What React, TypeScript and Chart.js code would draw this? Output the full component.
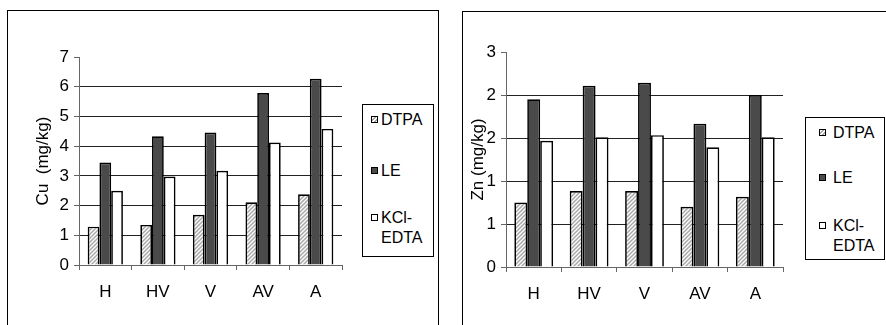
import React, { useEffect, useRef } from "react";
import { Chart, registerables } from "chart.js";

Chart.register(...registerables);

const categories = ["H", "HV", "V", "AV", "A"];
const seriesNames = ["DTPA", "LE", "KCl-EDTA"];

const cuDTPA = [1.29, 1.35, 1.69, 2.11, 2.38];
const cuLE = [3.45, 4.33, 4.46, 5.79, 6.27];
const cuKCl = [2.5, 2.98, 3.17, 4.12, 4.58];

const znDTPA = [0.9, 1.06, 1.06, 0.84, 0.98];
const znLE = [2.34, 2.53, 2.57, 2.0, 2.4];
const znKCl = [1.76, 1.81, 1.84, 1.67, 1.81];

const FONT = "'Liberation Sans', Arial, sans-serif";

function makePattern(): CanvasPattern | string {
  const c = document.createElement("canvas");
  c.width = 4;
  c.height = 4;
  const g = c.getContext("2d");
  if (!g) return "#ccc";
  g.fillStyle = "#ffffff";
  g.fillRect(0, 0, 4, 4);
  g.strokeStyle = "#a8a8a8";
  g.lineWidth = 1.5;
  g.beginPath();
  g.moveTo(0, 4);
  g.lineTo(4, 0);
  g.moveTo(-1, 1);
  g.lineTo(1, -1);
  g.moveTo(3, 5);
  g.lineTo(5, 3);
  g.stroke();
  return g.createPattern(c, "repeat") || "#ccc";
}

type BarProps = {
  values: number[][];
  max: number;
  step: number;
  title: string;
  left: number;
  top: number;
  width: number;
  height: number;
  padL: number;
  padT: number;
  padR: number;
  yW: number;
  xH: number;
  titlePad: number;
  catPct: number;
  round: boolean;
};

function BarChart(p: BarProps) {
  const ref = useRef<HTMLCanvasElement>(null);
  useEffect(() => {
    if (!ref.current) return;
    const pattern = makePattern();
    const fills = [pattern, "#4a4a4a", "#ffffff"];
    const axisColor = "#666666";
    const gridColor = "#222222";
    const chart = new Chart(ref.current, {
      type: "bar",
      data: {
        labels: categories,
        datasets: p.values.map((v, i) => ({
          label: seriesNames[i],
          data: v,
          backgroundColor: fills[i] as any,
          borderColor: "#000000",
          borderWidth: 1.7,
          categoryPercentage: p.catPct,
          barPercentage: 1,
        })),
      },
      options: {
        responsive: false,
        animation: false,
        devicePixelRatio: 1,
        layout: { padding: { left: p.padL, top: p.padT, right: p.padR, bottom: 0 } },
        plugins: { legend: { display: false }, tooltip: { enabled: false } },
        scales: {
          x: {
            grid: {
              display: true,
              drawOnChartArea: false,
              drawTicks: true,
              tickLength: 5,
              color: axisColor,
              offset: true,
            },
            border: { display: true, color: axisColor, width: 1 },
            ticks: { font: { family: FONT, size: 17 }, color: "#000", padding: 12, maxRotation: 0 },
            afterFit: (s: any) => {
              s.height = p.xH;
            },
          },
          y: {
            min: 0,
            max: p.max,
            ticks: {
              stepSize: p.step,
              font: { family: FONT, size: 17 },
              color: "#000",
              padding: 5,
              callback: (v: any) => (p.round ? String(Math.round(Number(v))) : String(v)),
            },
            grid: {
              color: (ctx: any) =>
                ctx.tick && ctx.tick.value >= p.max - 1e-9 ? "rgba(0,0,0,0)" : gridColor,
              tickColor: axisColor,
              tickLength: 5,
              lineWidth: 1,
            },
            border: { display: true, color: axisColor, width: 1 },
            title: {
              display: true,
              text: p.title,
              font: { family: FONT, size: 17 },
              color: "#000",
              padding: { top: p.titlePad, bottom: 0 },
            },
            afterFit: (s: any) => {
              s.width = p.yW;
            },
          },
        },
      },
    } as any);
    return () => chart.destroy();
  }, []);
  return (
    <canvas
      ref={ref}
      width={p.width}
      height={p.height}
      style={{ position: "absolute", left: p.left, top: p.top, width: p.width, height: p.height }}
    />
  );
}

type LegendProps = {
  left: number;
  top: number;
  width: number;
  height: number;
  rows: number[];
  swatchX: number;
  textX: number;
};

function Legend(l: LegendProps) {
  const swatchStyles: React.CSSProperties[] = [
    { background: "repeating-linear-gradient(135deg, #ffffff 0px, #ffffff 1.5px, #a8a8a8 1.5px, #a8a8a8 3px)" },
    { background: "#4a4a4a" },
    { background: "#ffffff" },
  ];
  const texts = [["DTPA"], ["LE"], ["KCl-", "EDTA"]];
  return (
    <div
      style={{
        position: "absolute",
        left: l.left,
        top: l.top,
        width: l.width,
        height: l.height,
        border: "1px solid #000",
        boxSizing: "border-box",
        fontFamily: FONT,
        fontSize: 16,
        color: "#000",
        background: "#fff",
      }}
    >
      {texts.map((t, i) => (
        <div key={i}>
          <div
            style={{
              position: "absolute",
              left: l.swatchX,
              top: l.rows[i] - 4,
              width: 7,
              height: 7,
              border: "1.5px solid #000",
              boxSizing: "border-box",
              ...swatchStyles[i],
            }}
          />
          <div
            style={{
              position: "absolute",
              left: l.textX,
              top: l.rows[i] - 10,
              lineHeight: "20px",
              whiteSpace: "nowrap",
            }}
          >
            {t.map((s, j) => (
              <div key={j}>{s}</div>
            ))}
          </div>
        </div>
      ))}
    </div>
  );
}

export default function App() {
  return (
    <div
      style={{
        position: "fixed",
        left: 0,
        top: 0,
        width: 886,
        height: 325,
        overflow: "hidden",
        background: "#fff",
      }}
    >
      <div
        style={{
          position: "absolute",
          left: 7,
          top: 10,
          width: 432,
          height: 400,
          border: "1px solid #000",
          boxSizing: "border-box",
        }}
      />
      <div
        style={{
          position: "absolute",
          left: 462,
          top: 11,
          width: 500,
          height: 400,
          border: "1px solid #000",
          boxSizing: "border-box",
        }}
      />
      <BarChart
        values={[cuDTPA, cuLE, cuKCl]}
        max={7}
        step={1}
        title="Cu  (mg/kg)"
        left={20}
        top={20}
        width={330}
        height={300}
        padL={0}
        padT={37}
        padR={8}
        yW={59}
        xH={55}
        titlePad={13}
        catPct={0.67}
        round={false}
      />
      <BarChart
        values={[znDTPA, znLE, znKCl]}
        max={3}
        step={0.6}
        title="Zn (mg/kg)"
        left={464}
        top={20}
        width={330}
        height={300}
        padL={0}
        padT={32}
        padR={11}
        yW={42}
        xH={53}
        titlePad={4}
        catPct={0.7}
        round={true}
      />
      <Legend left={362} top={104} width={72} height={153} rows={[15, 66, 113]} swatchX={8} textX={18} />
      <Legend left={805} top={117} width={80} height={143} rows={[15, 60, 108]} swatchX={13} textX={27} />
    </div>
  );
}
